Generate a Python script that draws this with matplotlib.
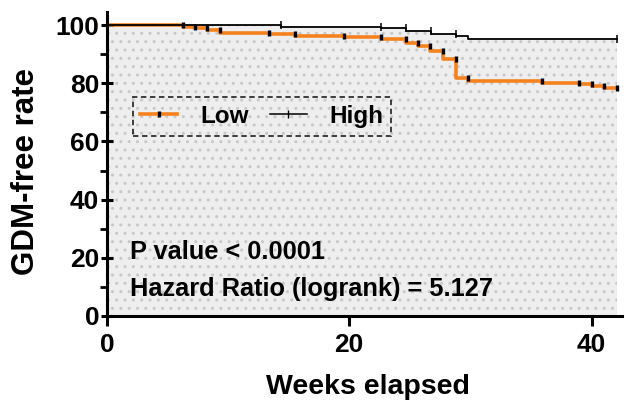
import numpy as np
import matplotlib
matplotlib.use("Agg")
import matplotlib.pyplot as plt
from matplotlib.lines import Line2D

plt.rcParams['font.family'] = ['Liberation Sans', 'DejaVu Sans']
plt.rcParams['font.weight'] = 'bold'
plt.rcParams['hatch.linewidth'] = 1.0

# Low group: step times and survival (%) after each step
low_times = [0, 6.25, 7.3, 8.3, 9.3, 13.4, 15.5, 19.6, 22.6, 24.7, 25.7, 26.7, 27.7, 28.8, 29.8, 35.9, 39.0, 40.0, 41.0]
low_surv = [100, 99.4, 98.9, 98.3, 97.4, 96.8, 96.3, 95.8, 95.2, 94.0, 92.8, 91.1, 88.3, 81.7, 80.8, 80.2, 79.7, 79.0, 78.5]
low_censor = [6.25, 7.3, 8.3, 9.3, 13.4, 15.5, 19.6, 22.6, 24.7, 25.7, 26.7, 27.7, 28.8, 29.8, 35.9, 39.0, 40.0, 41.0, 42.1]

# High group
high_times = [0, 14.4, 22.6, 24.7, 26.75, 28.8, 29.8]
high_surv = [100, 99.5, 98.9, 98.0, 97.1, 96.3, 95.2]
high_censor = [14.4, 22.6, 24.7, 26.75, 28.8, 42.1]

t_end = 42.1
x_ticks = [0, 20, 40]
y_ticks = [0, 20, 40, 60, 80, 100]

orange = '#F5821F'


def step_xy(times, surv, end):
    x = list(times) + [end]
    y = list(surv) + [surv[-1]]
    return np.array(x), np.array(y)


def value_before(times, surv, t):
    idx = np.searchsorted(times, t, side='left') - 1
    idx = max(idx, 0)
    return surv[idx]


fig = plt.figure(figsize=(6.25, 4.03), dpi=100)
ax = fig.add_axes([0.171, 0.216, 0.824, 0.754])

hx, hy = step_xy(high_times, high_surv, t_end)
lx, ly = step_xy(low_times, low_surv, t_end)

ax.fill_between(hx, 0, hy, step='post', facecolor='#eeeeee', edgecolor='#c8c8c8',
                hatch='..', linewidth=0, zorder=0)

ax.step(hx, hy, where='post', color='black', lw=1.3, zorder=3)
ax.step(lx, ly, where='post', color=orange, lw=2.6, zorder=2)

hc_y = [value_before(high_times, high_surv, t) for t in high_censor]
ax.plot(high_censor, hc_y, ls='none', marker='|', color='black', ms=6, mew=1.1, zorder=4)
lc_y = [value_before(low_times, low_surv, t) for t in low_censor]
ax.plot(low_censor, lc_y, ls='none', marker='|', color='black', ms=4.5, mew=2.4, zorder=4)

ax.set_xlim(0, 42.5)
ax.set_ylim(0, 104.5)
ax.set_xticks(x_ticks)
ax.set_yticks(y_ticks)
ax.set_yticks([10, 30, 50, 70, 90], minor=True)
for s in ['top', 'right']:
    ax.spines[s].set_visible(False)
for s in ['left', 'bottom']:
    ax.spines[s].set_linewidth(2.2)
ax.tick_params(axis='y', which='major', width=2.2, length=9, direction='inout', labelsize=19, pad=1)
ax.tick_params(axis='y', which='minor', width=2.0, length=5, direction='out')
ax.tick_params(axis='x', which='major', width=2.2, length=7, direction='out', labelsize=19, pad=5)
for lab in ax.get_xticklabels() + ax.get_yticklabels():
    lab.set_fontweight('bold')

ax.set_xlabel('Weeks elapsed', fontsize=20.5, fontweight='bold', labelpad=12.5, x=0.506)
ax.set_ylabel('GDM-free rate', fontsize=22.5, fontweight='bold', labelpad=10.5, y=0.475)

ax.text(1.9, 22, 'P value < 0.0001', fontsize=18.3, fontweight='bold', va='center', ha='left')
ax.text(1.9, 9.3, 'Hazard Ratio (logrank) = 5.127', fontsize=18.3, fontweight='bold', va='center', ha='left')

h1 = Line2D([0, 0.5, 1], [0, 0, 0], color=orange, lw=2.6, marker='|', mec='black', ms=4.5, mew=2.4, markevery=[1])
h2 = Line2D([0, 0.5, 1], [0, 0, 0], color='black', lw=1.1, marker='|', mec='black', ms=6, mew=1.0, markevery=[1])
leg = ax.legend([h1, h2], ['Low', 'High'], loc='upper left', bbox_to_anchor=(0.05, 0.72),
                ncol=2, fontsize=17.5, frameon=True, fancybox=False, handlelength=1.52,
                columnspacing=0.85, handletextpad=0.95, borderpad=0.32, borderaxespad=0, numpoints=1)
fr = leg.get_frame()
fr.set_facecolor('none')
fr.set_edgecolor('black')
fr.set_linestyle((0, (3, 2)))
fr.set_linewidth(1.3)
for t in leg.get_texts():
    t.set_fontweight('bold')

fig.savefig('out.png', dpi=100)
